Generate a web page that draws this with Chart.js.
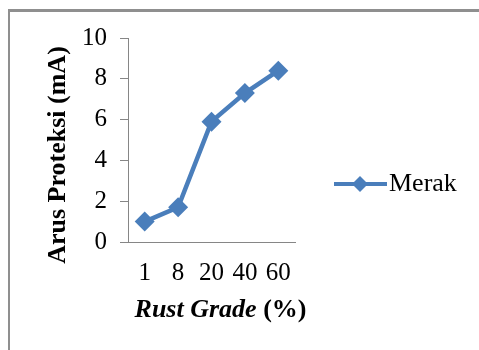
<!DOCTYPE html>
<html>
<head>
<meta charset="utf-8">
<script src="https://cdn.jsdelivr.net/npm/chart.js@4/dist/chart.umd.min.js"></script>
<style>
    html, body { margin: 0; padding: 0; background: #fff; overflow: hidden; }
    #wrap { position: relative; width: 479px; height: 350px; overflow: hidden; }
    #frame { position: absolute; left: 8px; top: 9px; right: -50px; bottom: -50px; border-top: 3px solid #8f8f8f; border-left: 2px solid #8f8f8f; }
    #grafico { position: absolute; left: 0; top: 0; }
</style>
</head>
<body>
<div id="wrap">
    <div id="frame"></div>
    <canvas id="grafico" width="479" height="350"></canvas>
</div>
<script>
var categorias = ['1', '8', '20', '40', '60'];
var valoresMerak = [1.0, 1.7, 5.9, 7.3, 8.4];
var nomeSerie = 'Merak';
var tituloY = 'Arus Proteksi (mA)';
var tituloXItalico = 'Rust Grade';
var tituloXNormal = ' (%)';

var corSerie = '#4a7ebb';
var corEixo = '#868686';
var fonteSerif = "'Liberation Serif', 'Times New Roman', serif";

var titulosELegenda = {
    id: 'titulosELegenda',
    afterDraw: function (chart) {
        var ctx = chart.ctx;
        var area = chart.chartArea;
        ctx.save();
        ctx.fillStyle = '#000';

        // titulo do eixo y, rotacionado
        ctx.save();
        ctx.translate(area.left - 70, (area.top + area.bottom) / 2 + 15);
        ctx.rotate(-Math.PI / 2);
        ctx.font = 'bold 26px ' + fonteSerif;
        ctx.textAlign = 'center';
        ctx.textBaseline = 'middle';
        ctx.fillText(tituloY, 0, 0);
        ctx.restore();

        // titulo do eixo x: parte em italico + parte normal
        ctx.textBaseline = 'middle';
        ctx.textAlign = 'left';
        ctx.font = 'italic bold 26px ' + fonteSerif;
        var w1 = ctx.measureText(tituloXItalico).width;
        ctx.font = 'bold 26px ' + fonteSerif;
        var w2 = ctx.measureText(tituloXNormal).width;
        var cx = (area.left + area.right) / 2 + 9;
        var x0 = cx - (w1 + w2) / 2;
        var y0 = area.bottom + 68;
        ctx.font = 'italic bold 26px ' + fonteSerif;
        ctx.fillText(tituloXItalico, x0, y0);
        ctx.font = 'bold 26px ' + fonteSerif;
        ctx.fillText(tituloXNormal, x0 + w1, y0);

        // legenda
        var lx = area.right + 39;
        var ly = (area.top + area.bottom) / 2 + 44;
        ctx.strokeStyle = corSerie;
        ctx.lineWidth = 4;
        ctx.beginPath();
        ctx.moveTo(lx, ly);
        ctx.lineTo(lx + 53, ly);
        ctx.stroke();
        ctx.fillStyle = corSerie;
        var r = 8;
        var mx = lx + 26;
        ctx.beginPath();
        ctx.moveTo(mx, ly - r);
        ctx.lineTo(mx + r, ly);
        ctx.lineTo(mx, ly + r);
        ctx.lineTo(mx - r, ly);
        ctx.closePath();
        ctx.fill();
        ctx.fillStyle = '#000';
        ctx.font = '26px ' + fonteSerif;
        ctx.textAlign = 'left';
        ctx.fillText(chart.data.datasets[0].label, lx + 55, ly);

        ctx.restore();
    }
};

new Chart(document.getElementById('grafico'), {
    type: 'line',
    data: {
        labels: categorias,
        datasets: [{
            label: nomeSerie,
            data: valoresMerak,
            borderColor: corSerie,
            backgroundColor: corSerie,
            borderWidth: 4.5,
            pointStyle: 'rectRot',
            pointRadius: 10,
            pointBorderWidth: 0,
            tension: 0,
            fill: false
        }]
    },
    options: {
        responsive: false,
        animation: false,
        layout: { padding: { left: 0, top: 38, right: 184, bottom: 0 } },
        plugins: {
            legend: { display: false },
            tooltip: { enabled: false }
        },
        scales: {
            x: {
                offset: true,
                grid: { drawOnChartArea: false, drawTicks: false, color: corEixo },
                border: { color: corEixo, width: 1 },
                ticks: { color: '#000', font: { family: fonteSerif, size: 25 }, padding: 16, maxRotation: 0, autoSkip: false },
                afterFit: function (s) { s.height = 108; }
            },
            y: {
                min: 0,
                max: 10,
                grid: { drawOnChartArea: false, drawTicks: true, tickLength: 8, color: corEixo },
                border: { color: corEixo, width: 1 },
                ticks: { stepSize: 2, color: '#000', font: { family: fonteSerif, size: 25 }, padding: 13 },
                afterFit: function (s) { s.width = 128; }
            }
        }
    },
    plugins: [titulosELegenda]
});
</script>
</body>
</html>
